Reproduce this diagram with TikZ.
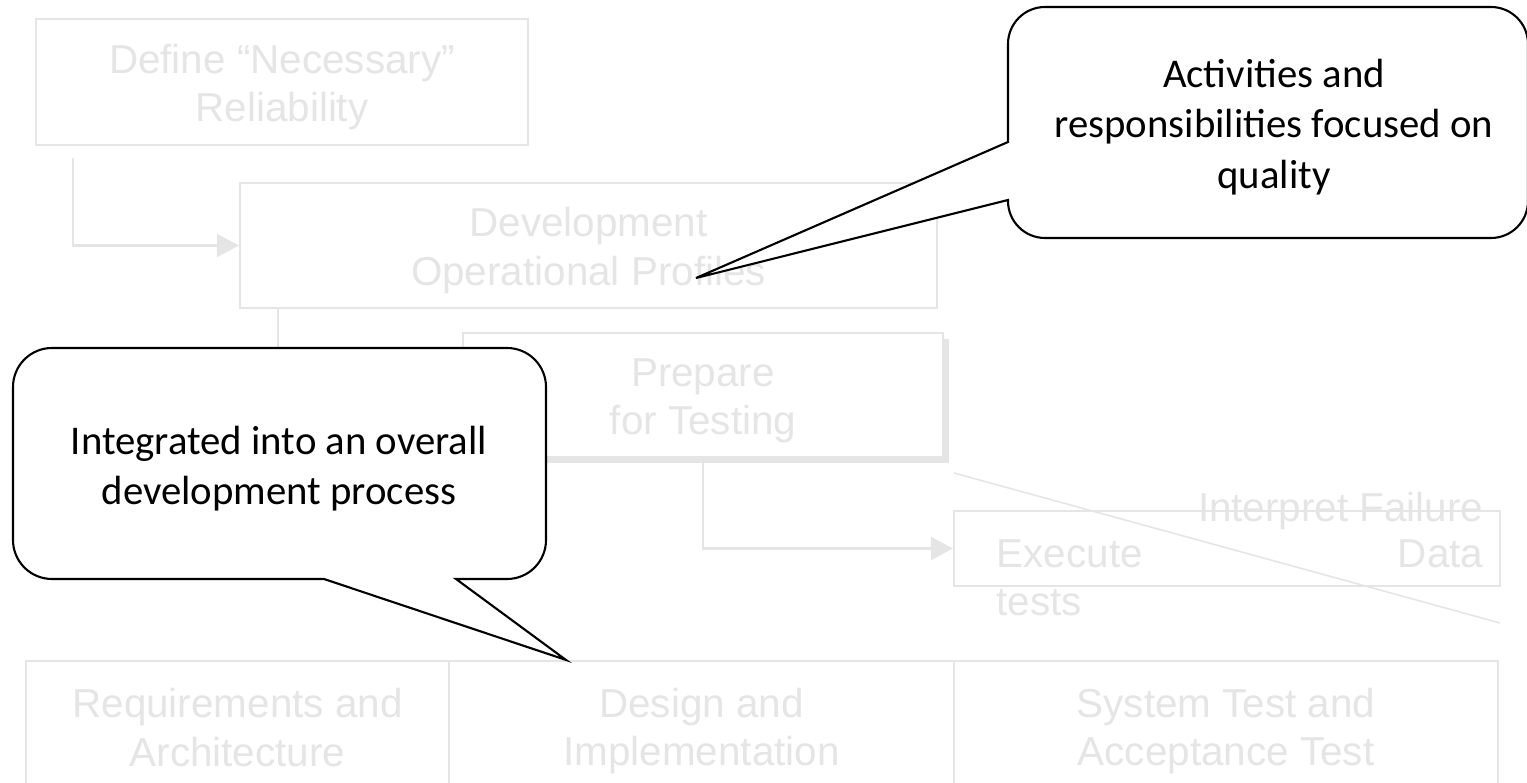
\documentclass[tikz,border=0pt]{standalone}
\usepackage{fontspec}
\setmainfont{Liberation Sans}
\newfontfamily\calloutfont{Carlito}
\usetikzlibrary{arrows.meta,shadows}
\definecolor{faded}{RGB}{229,229,229}
\newcommand\vstrut{\rule[-1.83pt]{0pt}{13pt}}

\begin{document}
\begin{tikzpicture}[
  every node/.append style={inner sep=0pt},
  stage/.style={draw=faded, line width=0.6pt, fill=white, text=faded, align=center,
    font=\fontsize{11.5}{13.9}\selectfont},
  loose/.style={text=faded, font=\fontsize{11.5}{13.9}\selectfont},
  flow/.style={draw=faded, line width=0.6pt, -{Triangle[length=0.22cm,width=0.23cm]}},
  note/.style={draw=black, line width=0.6pt, fill=white},
  notetext/.style={align=center, font=\calloutfont\fontsize{11.6}{14.3}\selectfont}
]
\useasboundingbox (0,0) rectangle (15.27,-7.83);
\clip (0,0) rectangle (15.27,-7.83);

\node[stage, minimum width=4.92cm, minimum height=1.26cm] (define) at (2.82,-0.82) {\vstrut Define “Necessary”\\\vstrut Reliability};
\node[stage, minimum width=6.97cm, minimum height=1.25cm] (dev) at (5.885,-2.455) {\vstrut Development\\\vstrut Operational Profiles};
\node[stage, minimum width=4.80cm, minimum height=1.24cm,
  drop shadow={shadow xshift=0.06cm, shadow yshift=-0.06cm, fill=faded, opacity=1}] (prep) at (7.03,-3.95) {\vstrut Prepare\\\vstrut for Testing};
\node[stage, minimum width=5.46cm, minimum height=0.75cm] (exec) at (12.27,-5.485) {};

\draw[flow] ([xshift=0.38cm,yshift=-0.12cm]define.south west) |- (dev.west);
\draw[flow] ([xshift=0.39cm]dev.south west) |- (prep.west);
\draw[flow] (prep.south) |- (exec.west);

\node[loose, anchor=base west] (exectxt) at (9.96,-5.68) {Execute};
\node[loose, anchor=base west] (teststxt) at (9.96,-6.16) {tests};
\node[loose, anchor=base east] (interptxt) at (14.84,-5.22) {Interpret Failure};
\node[loose, anchor=base east] (datatxt) at (14.84,-5.68) {Data};

\coordinate (slashtop) at (9.54,-4.73);
\coordinate (slashend) at (15.00,-6.23);
\draw[faded, line width=0.45pt] (slashtop) -- (slashend);

\node[stage, minimum width=4.23cm, minimum height=1.30cm] (reqcell) at (2.375,-7.26) {\vstrut Requirements and\\\vstrut Architecture};
\node[stage, minimum width=5.05cm, minimum height=1.30cm] (designcell) at (7.015,-7.26) {\vstrut Design and\\\vstrut Implementation};
\node[stage, minimum width=5.44cm, minimum height=1.30cm] (testcell) at (12.26,-7.26) {\vstrut System Test and\\\vstrut Acceptance Test};

\coordinate (devtip) at ([xshift=4.57cm,yshift=0.31cm]dev.south west);
\coordinate (designtip) at ([xshift=1.18cm]designcell.north west);

\draw[note] (devtip) -- (10.08,-1.42) -- (10.08,-0.44) arc[start angle=180,end angle=90,radius=0.37]
  -- (14.91,-0.07) arc[start angle=90,end angle=0,radius=0.37]
  -- (15.28,-2.01) arc[start angle=0,end angle=-90,radius=0.37]
  -- (10.45,-2.38) arc[start angle=270,end angle=180,radius=0.37]
  -- (10.08,-2.00) -- cycle;
\node[notetext] (qualnote) at (12.74,-1.27) {Activities and\\responsibilities focused on\\quality};

\draw[note] (designtip) -- (4.56,-5.79) -- (5.07,-5.79) arc[start angle=-90,end angle=0,radius=0.39]
  -- (5.46,-3.87) arc[start angle=0,end angle=90,radius=0.39]
  -- (0.52,-3.48) arc[start angle=90,end angle=180,radius=0.39]
  -- (0.13,-5.40) arc[start angle=180,end angle=270,radius=0.39]
  -- (3.24,-5.79) -- cycle;
\node[notetext] (procnote) at (2.79,-4.685) {Integrated into an overall\\development process};
\end{tikzpicture}
\end{document}
